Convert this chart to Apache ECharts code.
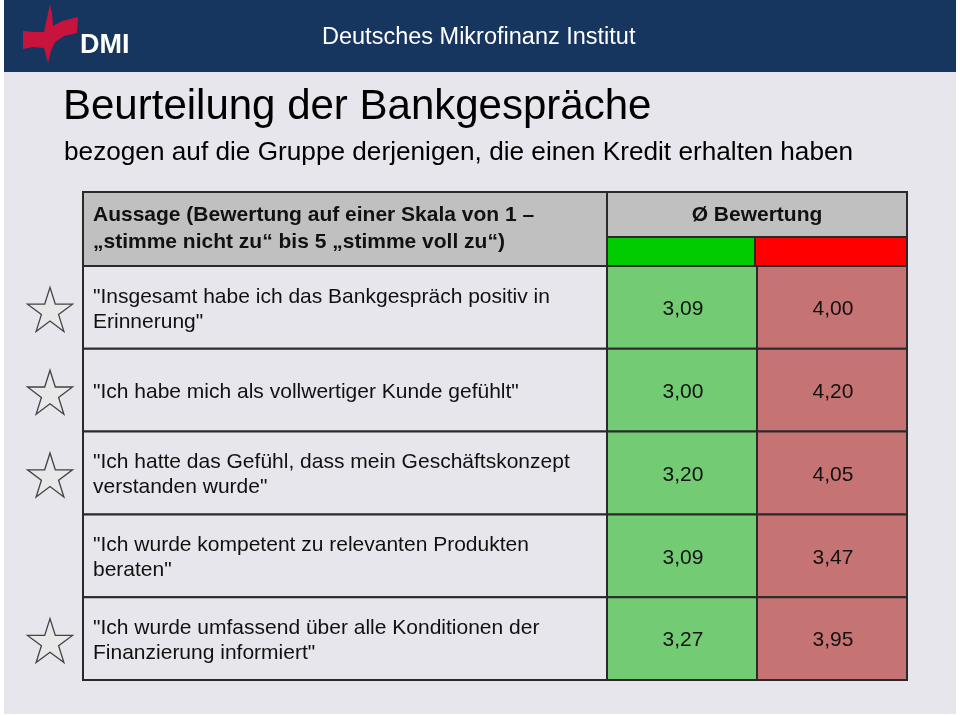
<!DOCTYPE html>
<html><head><meta charset="utf-8">
<script src="https://cdn.jsdelivr.net/npm/echarts@6/dist/echarts.min.js"></script>
<style>html,body{margin:0;padding:0;background:#fff;}#c{width:960px;height:716px;}</style>
</head><body><div id="c"></div>
<script>
// ---- data ----
var statements = [
  '"Insgesamt habe ich das Bankgespräch positiv in\nErinnerung"',
  '"Ich habe mich als vollwertiger Kunde gefühlt"',
  '"Ich hatte das Gefühl, dass mein Geschäftskonzept\nverstanden wurde"',
  '"Ich wurde kompetent zu relevanten Produkten\nberaten"',
  '"Ich wurde umfassend über alle Konditionen der\nFinanzierung informiert"'
];
var greenValues = [3.09, 3.00, 3.20, 3.09, 3.27];
var redValues = [4.00, 4.20, 4.05, 3.47, 3.95];
var starred = [true, true, true, false, true];
var columns = ['grün', 'rot'];
var headerLeft = 'Aussage (Bewertung auf einer Skala von 1 –\n„stimme nicht zu“ bis 5 „stimme voll zu“)';
var headerRight = 'Ø Bewertung';
var titleText = 'Beurteilung der Bankgespräche';
var subtitleText = 'bezogen auf die Gruppe derjenigen, die einen Kredit erhalten haben';
var instituteText = 'Deutsches Mikrofinanz Institut';

// ---- styles ----
var FONT = '"Liberation Sans", Arial, Helvetica, sans-serif';
var BG = '#e6e6ec';
var NAVY = '#16355f';
var BORDER = '#2a2a2a';
var HEAD_GREY = '#c0c0c0';
var HEAD_GREEN = '#00cc00';
var HEAD_RED = '#ff0000';
var CELL_GREEN = '#73cc73';
var CELL_RED = '#c67373';

var rowIdx = statements.map(function (_, i) { return String(i); });
function fmt(v) { return v.toFixed(2).replace('.', ','); }

var valueData = [];
greenValues.forEach(function (v, i) { valueData.push([0, i, v]); });
redValues.forEach(function (v, i) { valueData.push([1, i, v]); });
var textData = statements.map(function (_, i) { return [0, i]; });
var starData = [];
starred.forEach(function (s, i) { if (s) starData.push([0, i]); });

function starPath() {
  var pts = [], R = 10, r = 3.82;
  for (var k = 0; k < 10; k++) {
    var ang = -Math.PI / 2 + k * Math.PI / 5;
    var rad = k % 2 === 0 ? R : r;
    pts.push((R + rad * Math.cos(ang)).toFixed(3) + ',' + (R + rad * Math.sin(ang)).toFixed(3));
  }
  return 'path://M' + pts.join(' L') + ' Z';
}

var chart = echarts.init(document.getElementById('c'), null, { renderer: 'canvas' });

var TABLE_TOP = 192, HEAD_SPLIT = 237, BODY_TOP = 266, BODY_BOTTOM = 680;
var X_LEFT = 83, X_MID = 607, X_SPLIT = 755, X_RIGHT = 907;

function hiddenCat(data, inverse) {
  return { type: 'category', data: data, show: false, inverse: !!inverse, boundaryGap: true };
}

var logoPoints = [[50,4],[52,14],[53,26],[62,21],[78,17],[77,33],[64,36],[55,42],[51,51],[48,63],[46,55],[44,48],[33,47],[23,49],[23,31],[35,32],[44,32],[47,18]];

var option = {
  backgroundColor: '#ffffff',
  animation: false,
  grid: [
    { left: X_LEFT, width: X_MID - X_LEFT, top: BODY_TOP, height: BODY_BOTTOM - BODY_TOP },
    { left: X_MID, width: X_RIGHT - X_MID, top: BODY_TOP, height: BODY_BOTTOM - BODY_TOP },
    { left: 28, width: 44, top: BODY_TOP, height: BODY_BOTTOM - BODY_TOP }
  ],
  xAxis: [
    Object.assign(hiddenCat(['Aussage']), { gridIndex: 0 }),
    Object.assign(hiddenCat(columns), { gridIndex: 1 }),
    Object.assign(hiddenCat(['Stern']), { gridIndex: 2 })
  ],
  yAxis: [
    Object.assign(hiddenCat(rowIdx, true), { gridIndex: 0 }),
    Object.assign(hiddenCat(rowIdx, true), { gridIndex: 1 }),
    Object.assign(hiddenCat(rowIdx, true), { gridIndex: 2 })
  ],
  graphic: [
    { type: 'rect', z: -10, shape: { x: 4, y: 0, width: 952, height: 714 }, style: { fill: BG } },
    { type: 'rect', z: -9, shape: { x: 4, y: 0, width: 952, height: 72 }, style: { fill: NAVY } },
    { type: 'polygon', z: -8, shape: { points: logoPoints }, style: { fill: '#c8143c' } },
    { type: 'text', z: -8, x: 80, y: 46, style: { text: 'DMI', font: 'bold 27px ' + FONT, fill: '#ffffff', verticalAlign: 'middle' } },
    { type: 'text', z: -8, x: 322, y: 38, style: { text: instituteText, font: '23.5px ' + FONT, fill: '#ffffff', verticalAlign: 'middle' } },
    { type: 'text', z: -8, x: 63, y: 107, style: { text: titleText, font: '42px ' + FONT, fill: '#000000', verticalAlign: 'middle' } },
    { type: 'text', z: -8, x: 64, y: 153, style: { text: subtitleText, font: '26.2px ' + FONT, fill: '#000000', verticalAlign: 'middle' } },
    { type: 'rect', z: -5, shape: { x: X_LEFT, y: TABLE_TOP, width: X_MID - X_LEFT, height: BODY_TOP - TABLE_TOP }, style: { fill: HEAD_GREY, stroke: BORDER, lineWidth: 2 } },
    { type: 'rect', z: -5, shape: { x: X_MID, y: TABLE_TOP, width: X_RIGHT - X_MID, height: HEAD_SPLIT - TABLE_TOP }, style: { fill: HEAD_GREY, stroke: BORDER, lineWidth: 2 } },
    { type: 'rect', z: -5, shape: { x: X_MID, y: HEAD_SPLIT, width: X_SPLIT - X_MID, height: BODY_TOP - HEAD_SPLIT }, style: { fill: HEAD_GREEN, stroke: BORDER, lineWidth: 2 } },
    { type: 'rect', z: -5, shape: { x: X_SPLIT, y: HEAD_SPLIT, width: X_RIGHT - X_SPLIT, height: BODY_TOP - HEAD_SPLIT }, style: { fill: HEAD_RED, stroke: BORDER, lineWidth: 2 } },
    { type: 'text', z: -4, x: 93, y: 229, style: { text: headerLeft, font: 'bold 21px ' + FONT, lineHeight: 27, fill: '#111', verticalAlign: 'middle' } },
    { type: 'text', z: -4, x: (X_MID + X_RIGHT) / 2, y: 215, style: { text: headerRight, font: 'bold 21px ' + FONT, fill: '#111', align: 'center', verticalAlign: 'middle' } }
  ],
  series: [
    {
      type: 'custom', xAxisIndex: 0, yAxisIndex: 0, data: textData,
      renderItem: function (params, api) {
        var c = api.coord([api.value(0), api.value(1)]);
        var s = api.size([1, 1]);
        return {
          type: 'group', children: [
            { type: 'rect', shape: { x: c[0] - s[0] / 2, y: c[1] - s[1] / 2, width: s[0], height: s[1] }, style: { fill: BG, stroke: BORDER, lineWidth: 2 } },
            { type: 'text', x: c[0] - s[0] / 2 + 10, y: c[1] + 2, style: { text: statements[params.dataIndex], font: '21px ' + FONT, lineHeight: 25, fill: '#111', verticalAlign: 'middle' } }
          ]
        };
      }
    },
    {
      type: 'custom', xAxisIndex: 1, yAxisIndex: 1, data: valueData,
      renderItem: function (params, api) {
        var col = api.value(0);
        var c = api.coord([col, api.value(1)]);
        var s = api.size([1, 1]);
        return {
          type: 'group', children: [
            { type: 'rect', shape: { x: c[0] - s[0] / 2, y: c[1] - s[1] / 2, width: s[0], height: s[1] }, style: { fill: col === 0 ? CELL_GREEN : CELL_RED, stroke: BORDER, lineWidth: 2 } },
            { type: 'text', x: c[0] + 1, y: c[1] + 2, style: { text: fmt(api.value(2)), font: '21px ' + FONT, fill: '#111', align: 'center', verticalAlign: 'middle' } }
          ]
        };
      }
    },
    {
      type: 'scatter', xAxisIndex: 2, yAxisIndex: 2, data: starData,
      symbol: starPath(), symbolSize: [45, 44], symbolKeepAspect: false,
      symbolOffset: [0, 2],
      itemStyle: { color: '#e8e8e8', borderColor: '#1a1a1a', borderWidth: 1.3 },
      silent: true
    }
  ]
};
chart.setOption(option);
</script></body></html>
